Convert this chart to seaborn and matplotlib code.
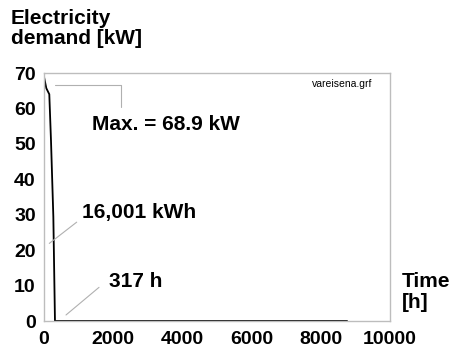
import matplotlib
matplotlib.use("Agg")
import matplotlib.pyplot as plt
import seaborn as sns
import pandas as pd

hours = [0, 67, 153, 202, 270, 317, 318, 8760]
demand_kw = [68.9, 65.7, 64.0, 51.0, 29.4, 0.0, 0.0, 0.0]
x_ticks = [0, 2000, 4000, 6000, 8000, 10000]
y_ticks = [0, 10, 20, 30, 40, 50, 60, 70]

sns.set_theme(style="white")
plt.rcParams['font.family'] = ['Liberation Sans', 'DejaVu Sans']
plt.rcParams['text.color'] = 'black'

df = pd.DataFrame({"hours": hours, "demand": demand_kw})

fig = plt.figure(figsize=(4.51, 3.54), dpi=100)
ax = fig.add_axes([44/451, 1-321/354, (390-44)/451, (321-73)/354])
sns.lineplot(data=df, x="hours", y="demand", ax=ax, color="black", linewidth=1.3,
             estimator=None, sort=False)
ax.set_xlim(0, 10000)
ax.set_ylim(0, 70)
ax.set_xticks(x_ticks)
ax.set_yticks(y_ticks)
ax.set_xticklabels([str(v) for v in x_ticks], fontsize=14, fontweight="bold", color="black")
ax.set_yticklabels([str(v) for v in y_ticks], fontsize=14, fontweight="bold", color="black")
ax.set_xlabel("")
ax.set_ylabel("")
for s in ax.spines.values():
    s.set_color("#bdbdbd")
    s.set_linewidth(1.0)
ax.tick_params(axis="both", which="both", length=4, width=1, color="#bdbdbd",
               direction="out", pad=2, labelcolor="black")
ax.tick_params(axis="x", pad=3)

fig.text(11/451, 1-9/354, "Electricity\ndemand [kW]", ha="left", va="top", fontsize=15,
         fontweight="bold", linespacing=1.1, color="black")
fig.text(402/451, 1-272/354, "Time\n[h]", ha="left", va="top", fontsize=15,
         fontweight="bold", linespacing=1.1, color="black")
ax.text(0.861, 0.975, "vareisena.grf", transform=ax.transAxes, ha="center", va="top",
        fontsize=7.5, color="black")

gray = "#b0b0b0"
# Max annotation
ax.plot([320, 2217, 2217], [66.6, 66.6, 60.3], color=gray, lw=0.8)
ax.text(1400, 55.4, "Max. = 68.9 kW", ha="left", va="center", fontsize=15,
        fontweight="bold", color="black")
# Energy annotation
ax.plot([153, 945], [21.9, 27.9], color=gray, lw=0.8)
ax.text(1110, 30.6, "16,001 kWh", ha="left", va="center", fontsize=15,
        fontweight="bold", color="black")
# Hours annotation
ax.plot([636, 1590], [1.7, 9.5], color=gray, lw=0.8)
ax.text(1890, 11.1, "317 h", ha="left", va="center", fontsize=15,
        fontweight="bold", color="black")

fig.savefig("out.png", dpi=100)
